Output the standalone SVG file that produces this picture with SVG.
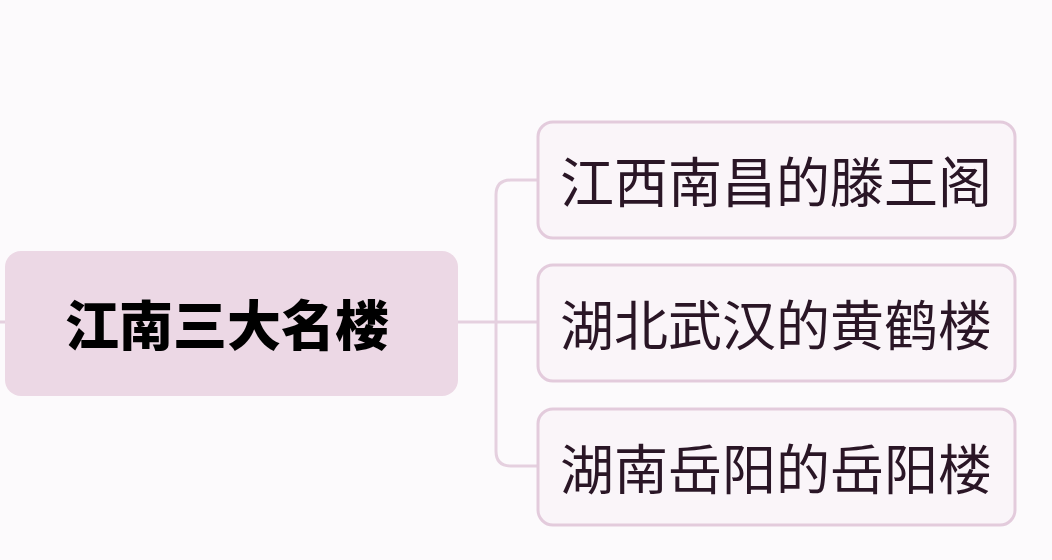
<svg xmlns="http://www.w3.org/2000/svg" width="1052" height="560" viewBox="0 0 1052 560">
<style>
.conn{fill:none;stroke:#e5d0df;stroke-width:3}
.child rect{fill:#faf5f9;stroke:#e3cbdc;stroke-width:3}
.child text{font-family:"Noto Sans CJK SC","Noto Sans",sans-serif;font-size:54px;fill:#2a1626;text-anchor:middle;dominant-baseline:central}
.root rect{fill:#ecd8e5}
.root text{font-family:"Noto Sans CJK SC","Noto Sans",sans-serif;font-size:54px;font-weight:900;fill:#000;text-anchor:middle;dominant-baseline:central}
</style>
<rect width="1052" height="560" fill="#fcfafc"/>
<g id="connectors">
<path class="conn" d="M0 322 H5"/>
<path class="conn" d="M458 322 H537"/>
<path class="conn" d="M537 180 H511 Q496 180 496 195 V451 Q496 466 511 466 H537"/>
</g>
<g id="root" class="root">
<rect x="5" y="251" width="453" height="145" rx="16"/>
<text x="227" y="322">江南三大名楼</text>
</g>
<g id="child1" class="child">
<rect x="538" y="122" width="477" height="116" rx="15"/>
<text x="776" y="179">江西南昌的滕王阁</text>
</g>
<g id="child2" class="child">
<rect x="538" y="265" width="477" height="116" rx="15"/>
<text x="776" y="322">湖北武汉的黄鹤楼</text>
</g>
<g id="child3" class="child">
<rect x="538" y="409" width="477" height="116" rx="15"/>
<text x="776" y="466">湖南岳阳的岳阳楼</text>
</g>
</svg>
